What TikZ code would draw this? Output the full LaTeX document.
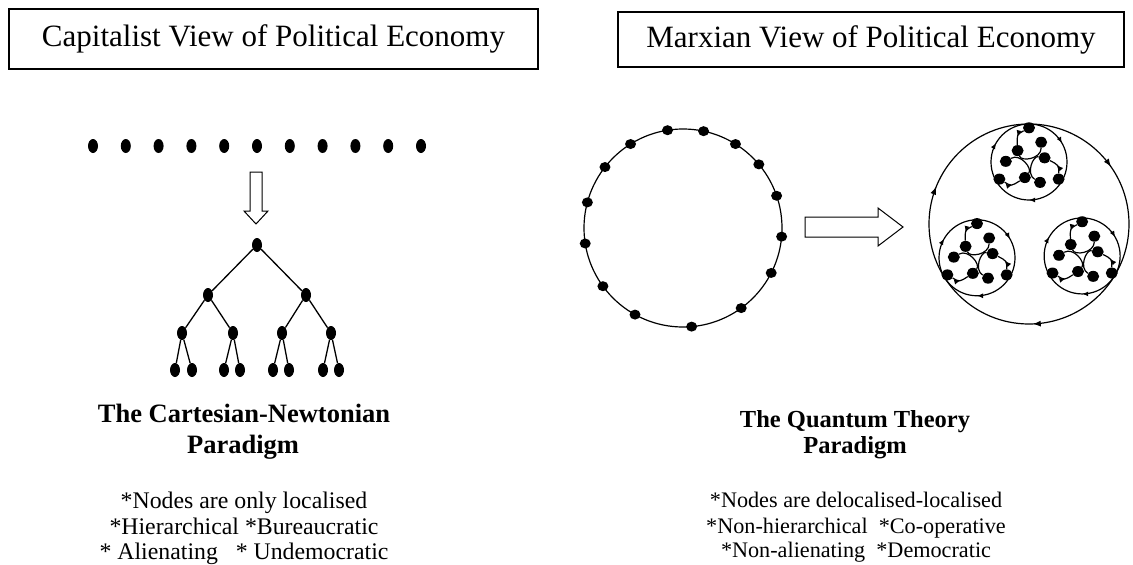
\documentclass[tikz,border=0pt]{standalone}
\usepackage{fontspec}
\setmainfont{Liberation Serif}
\usetikzlibrary{arrows.meta,calc,positioning}
\usetikzlibrary{shapes.geometric,decorations.markings}

\tikzset{
  vdot/.style={ellipse,fill,inner sep=0pt,minimum width=10pt,minimum height=14pt},
  hdot/.style={ellipse,fill,inner sep=0pt,minimum width=11pt,minimum height=10pt},
  sdot/.style={ellipse,fill,inner sep=0pt,minimum width=12pt,minimum height=11pt},
  branch/.style={line width=1.3pt},
  hollow/.style={draw,line width=1pt,fill=white},
  titlebox/.style={draw,line width=1.2pt,inner sep=0pt,font=\fontsize{31pt}{36pt}\selectfont},
  lhead/.style={anchor=base,inner sep=0pt,font=\bfseries\fontsize{26.5pt}{30pt}\selectfont},
  lnote/.style={anchor=base,inner sep=0pt,font=\fontsize{23.8pt}{28pt}\selectfont},
  rhead/.style={anchor=base,inner sep=0pt,font=\bfseries\fontsize{24.5pt}{28pt}\selectfont},
  rnote/.style={anchor=base,inner sep=0pt,font=\fontsize{22.2pt}{26pt}\selectfont},
  bigflow/.style={line width=1.2pt,postaction={decorate},
    decoration={markings,
      mark=at position 0.244 with {\arrow{Latex[length=8pt,width=6pt]}},
      mark=at position 0.561 with {\arrow{Latex[length=8pt,width=6pt]}},
      mark=at position 0.903 with {\arrow{Latex[length=8pt,width=6pt]}}}},
  smallflow/.style={line width=1.2pt,postaction={decorate},
    decoration={markings,
      mark=at position 0.25 with {\arrow{Latex[length=6pt,width=5pt]}},
      mark=at position 0.583 with {\arrow{Latex[length=6pt,width=5pt]}},
      mark=at position 0.917 with {\arrow{Latex[length=6pt,width=5pt]}}}},
  petal/.style={line width=1.2pt,postaction={decorate},
    decoration={markings,
      mark=at position 0.5 with {\arrow{Latex[length=6pt,width=5pt]}}}},
  pics/cell/.style={code={
    \begin{scope}[x=38pt,y=38pt]
      \draw[smallflow] (1,0) arc[start angle=0,end angle=-360,radius=1];
      \foreach \rot in {0,120,240}{
        \begin{scope}[rotate=\rot]
          \node[sdot] (q1) at (0,0.9) {};
          \node[sdot] (q2) at (-0.3,0.3) {};
          \node[sdot] (q3) at (0.32,0.52) {};
          \draw[petal] (q1) .. controls (-0.32,0.72) .. (q2);
          \draw[line width=1.2pt] (q2) .. controls (-0.2,0.0) and (0.32,0.08) .. (q3);
        \end{scope}
      }
    \end{scope}
  }}
}

\begin{document}
\begin{tikzpicture}[x=1pt,y=-1pt]
\useasboundingbox (0,0) rectangle (1133,565);

% titles
\node[titlebox,minimum width=529pt,minimum height=60pt] (capbox) at (273.5,39) {Capitalist View of Political Economy};
\node[titlebox,minimum width=506pt,minimum height=55pt] (marxbox) at (871,39.5) {Marxian View of Political Economy};

% left: loose nodes
\foreach \i in {0,...,10}
  \node[vdot] (row\i) at ({93+32.8*\i},146) {};
\draw[hollow] (250,172) -- (262,172) -- (262,211) -- (268,211) -- (256,224)
  -- (244,211) -- (250,211) -- cycle;

% left: the tree
\node[vdot] (root) at (257,245) {};
\node[vdot] (L) at (208,295) {};
\node[vdot] (R) at (306,295) {};
\node[vdot] (LL) at (182,333) {};
\node[vdot] (LR) at (233,333) {};
\node[vdot] (RL) at (282,333) {};
\node[vdot] (RR) at (331,333) {};
\node[vdot] (LLa) at (175,370) {};
\node[vdot] (LLb) at (192,370) {};
\node[vdot] (LRa) at (224,370) {};
\node[vdot] (LRb) at (240,370) {};
\node[vdot] (RLa) at (273,370) {};
\node[vdot] (RLb) at (289,370) {};
\node[vdot] (RRa) at (323,370) {};
\node[vdot] (RRb) at (339,370) {};
\draw[branch] (L)--(root)--(R);
\draw[branch] (LL)--(L)--(LR);
\draw[branch] (RL)--(R)--(RR);
\draw[branch] (LLa)--(LL)--(LLb);
\draw[branch] (LRa)--(LR)--(LRb);
\draw[branch] (RLa)--(RL)--(RLb);
\draw[branch] (RRa)--(RR)--(RRb);

\node[lhead] (lh1) at (244,422) {The Cartesian-Newtonian};
\node[lhead] (lh2) at (243,453) {Paradigm};
\node[lnote] (ln1) at (244,508) {*Nodes are only localised};
\node[lnote] (ln2) at (244,534) {*Hierarchical *Bureaucratic};
\node[lnote] (ln3) at (244,559) {* Alienating\ \ \ * Undemocratic};

% right: ring of nodes
\begin{scope}[shift={(683,228)},x=1pt,y=1pt]
  \draw[line width=1.2pt] (0,0) circle[radius=99];
  \foreach \a [count=\i] in {355,19,40,58,78,99,122,142,165,189,216,241,275,306,333}
    \node[hdot] (ring\i) at (\a:99) {};
\end{scope}
\draw[hollow] (805,217) -- (878,217) -- (878,208) -- (903,227) -- (878,246)
  -- (878,237) -- (805,237) -- cycle;

% right: cells within the whole
\begin{scope}[shift={(1029,224)},x=1pt,y=1pt]
  \draw[bigflow] (100,0) arc[start angle=0,end angle=-360,radius=100];
  \pic at (90:62) {cell};
  \pic at (213:62) {cell};
  \pic at (329:62) {cell};
\end{scope}

\node[rhead] (rh1) at (855,427) {The Quantum Theory};
\node[rhead] (rh2) at (855,453) {Paradigm};
\node[rnote] (rn1) at (856,507) {*Nodes are delocalised-localised};
\node[rnote] (rn2) at (856,533) {*Non-hierarchical\ \ *Co-operative};
\node[rnote] (rn3) at (856,557) {*Non-alienating\ \ *Democratic};
\end{tikzpicture}
\end{document}
